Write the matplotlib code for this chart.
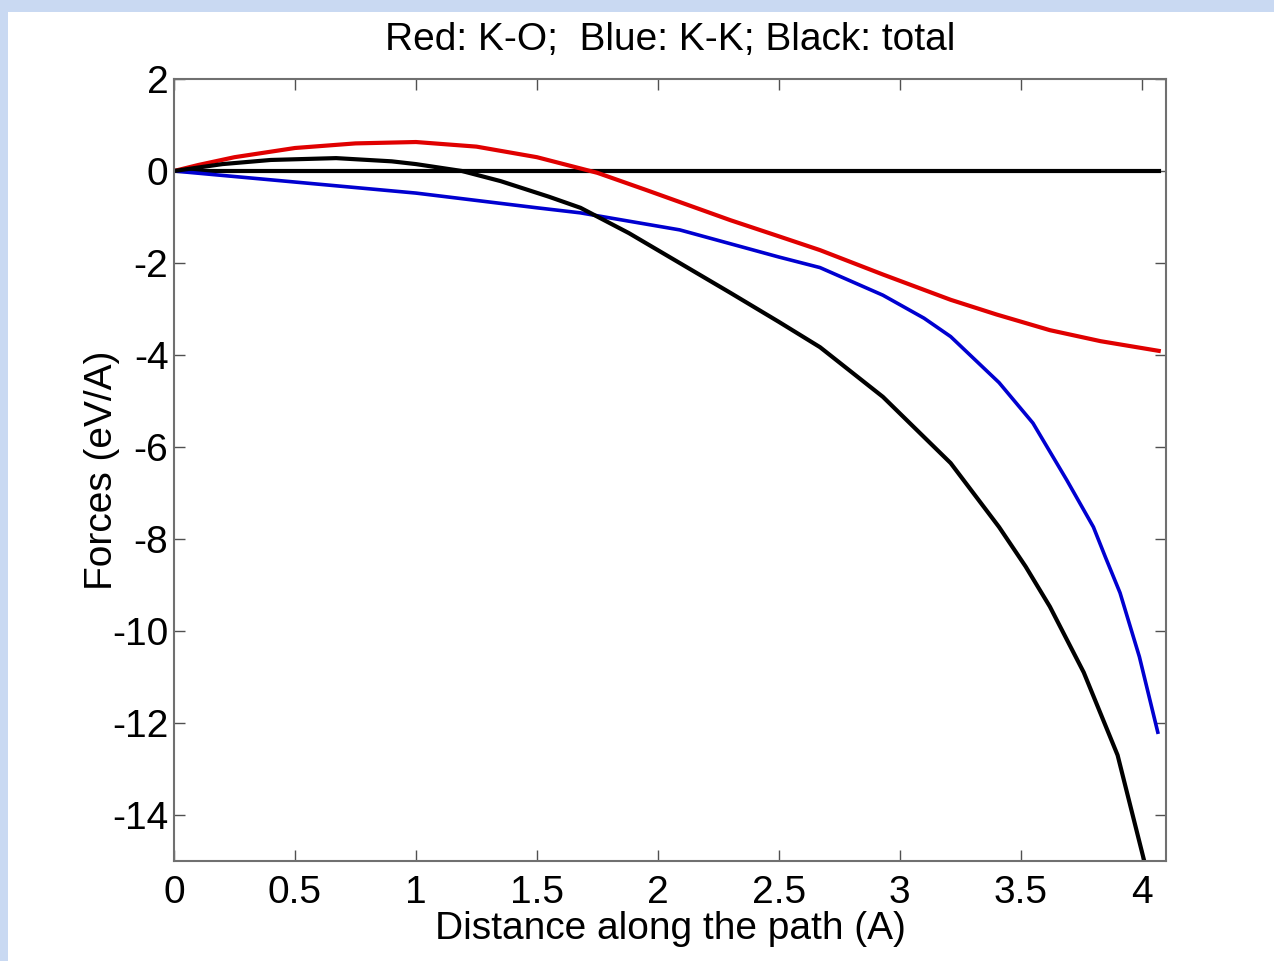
import matplotlib.pyplot as plt
from matplotlib.patches import Rectangle

plt.rcParams['font.family'] = ['Liberation Sans', 'DejaVu Sans']
plt.rcParams['axes.unicode_minus'] = False

# K-O contribution (red)
x_ko = [0, 0.1, 0.25, 0.5, 0.75, 1.0, 1.25, 1.5, 1.75, 1.95, 2.3, 2.5, 2.67, 2.93, 3.21, 3.4, 3.62, 3.83, 4.07]
f_ko = [0, 0.13, 0.3, 0.5, 0.6, 0.63, 0.53, 0.3, -0.04, -0.41, -1.07, -1.42, -1.72, -2.25, -2.8, -3.12, -3.46, -3.7, -3.91]

# K-K contribution (blue)
x_kk = [0, 0.5, 1.0, 1.5, 1.68, 2.09, 2.5, 2.67, 2.93, 3.1, 3.21, 3.41, 3.55, 3.69, 3.8, 3.85, 3.91, 3.99, 4.066]
f_kk = [0, -0.24, -0.48, -0.8, -0.91, -1.28, -1.87, -2.1, -2.7, -3.2, -3.6, -4.6, -5.48, -6.72, -7.74, -8.4, -9.17, -10.56, -12.2]

# total (black)
x_tot = [0, 0.2, 0.4, 0.67, 0.9, 1.0, 1.19, 1.35, 1.55, 1.68, 1.88, 2.09, 2.3, 2.5, 2.67, 2.93, 3.21, 3.41, 3.52, 3.62, 3.76, 3.9, 4.01]
f_tot = [0, 0.15, 0.24, 0.28, 0.21, 0.15, 0.0, -0.22, -0.56, -0.8, -1.35, -2.0, -2.65, -3.28, -3.83, -4.91, -6.35, -7.74, -8.6, -9.47, -10.9, -12.7, -15.0]

x_zero = [0, 4.07]
f_zero = [0, 0]

fig = plt.figure(figsize=(12.74, 9.61), dpi=100, facecolor='#c9d9f2')
# white slide panel behind the axes
panel = Rectangle((8 / 1274, 0), 1, 1 - 12 / 961, transform=fig.transFigure,
                  facecolor='white', edgecolor='none', zorder=-10)
fig.add_artist(panel)

ax = fig.add_axes([174 / 1274, 1 - 861 / 961, (1166 - 174) / 1274, (861 - 79) / 961])
ax.set_zorder(1)
ax.plot(x_zero, f_zero, color='black', lw=3)
ax.plot(x_ko, f_ko, color='#e00000', lw=3)
ax.plot(x_kk, f_kk, color='#0000d0', lw=2.6)
ax.plot(x_tot, f_tot, color='black', lw=3)

ax.set_xlim(0, 4.1)
ax.set_ylim(-15, 2)
ax.set_xticks([0, 0.5, 1, 1.5, 2, 2.5, 3, 3.5, 4])
ax.set_xticklabels(['0', '0.5', '1', '1.5', '2', '2.5', '3', '3.5', '4'])
ax.set_yticks([2, 0, -2, -4, -6, -8, -10, -12, -14])
ax.tick_params(direction='in', length=8, width=1, color='#505050', labelsize=28,
               top=True, right=True)
ax.tick_params(axis='x', pad=10)
ax.tick_params(axis='y', pad=4)
for s in ax.spines.values():
    s.set_color('#707070')
    s.set_linewidth(1.5)

ax.set_title('Red: K-O;  Blue: K-K; Black: total', fontsize=28, pad=21)
ax.set_xlabel('Distance along the path (A)', fontsize=28, labelpad=0)
ax.set_ylabel('Forces (eV/A)', fontsize=28, labelpad=-6)

fig.savefig('out.png', dpi=100, facecolor=fig.get_facecolor())
